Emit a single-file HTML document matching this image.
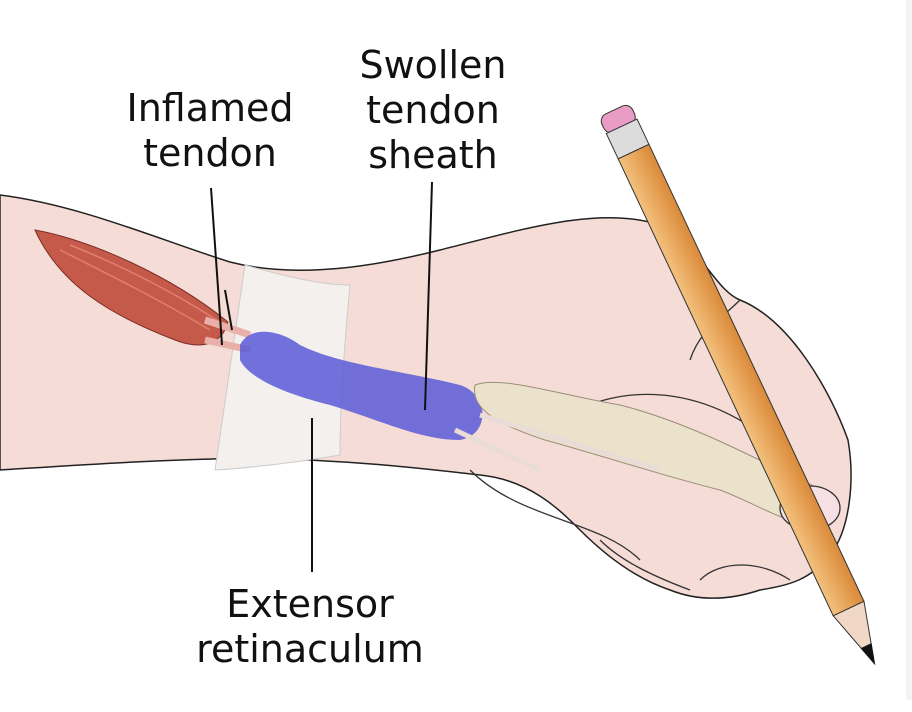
<!DOCTYPE html>
<html><head><style>
body{margin:0;background:#fff;width:912px;height:712px;overflow:hidden;position:relative;font-family:"DejaVu Sans","Liberation Sans",sans-serif}
.strip{position:absolute;left:906px;top:0;width:6px;height:700px;background:#f3f3f3}
.lbl{position:absolute;font-size:38px;color:#111;text-align:center;line-height:45px}
</style></head><body>
<div class="strip"></div>
<svg width="912" height="712" style="position:absolute;left:0;top:0">
<defs>
<linearGradient id="pen" x1="0" y1="0" x2="1" y2="0">
<stop offset="0" stop-color="#f2c17f"/><stop offset="0.5" stop-color="#e8a55a"/><stop offset="1" stop-color="#d98a3a"/></linearGradient>
</defs>
<path d="M0,195 C80,205 160,240 230,262 C300,280 380,265 440,250 C520,230 600,205 660,225 C700,245 715,290 740,300 C790,320 830,390 848,440 C855,480 850,530 830,555 C810,580 790,585 760,590 C730,600 700,602 670,590 C640,580 610,560 580,530 C560,510 530,480 480,475 C420,468 350,460 250,458 C150,460 80,465 0,470 Z" fill="#f5dcd6" stroke="#222" stroke-width="1.5"/>
<path d="M470,470 C520,520 600,520 640,560 M600,540 C620,560 650,575 690,590 M690,360 C700,330 720,320 740,300 M700,580 C720,560 760,560 790,580" fill="none" stroke="#333" stroke-width="1.3"/>
<path d="M560,420 C620,380 720,380 800,470" fill="none" stroke="#333" stroke-width="1.3"/>
<path d="M245,265 C280,275 320,285 350,285 C345,340 340,400 340,455 C300,462 250,468 215,470 C225,400 235,330 245,265 Z" fill="#f3f0ee" stroke="#ccc" stroke-width="1"/>
<path d="M35,230 C90,240 170,275 228,322 C222,345 200,350 175,340 C110,315 60,285 35,230 Z" fill="#c65a4a" stroke="#7a2e25" stroke-width="1"/>
<path d="M60,250 C110,275 160,300 210,330 M70,245 C120,265 170,290 220,322" stroke="#e08070" stroke-width="1.5" fill="none"/>
<path d="M205,320 L250,335 M205,340 L250,350" stroke="#e8b0a8" stroke-width="7"/>
<path d="M240,345 C250,325 280,330 300,345 C340,365 400,370 460,385 C490,395 490,435 460,440 C420,440 380,420 330,405 C290,395 250,380 240,360 Z" fill="#5a5ad8" opacity="0.85"/>
<path d="M475,385 C500,375 560,395 620,405 C680,420 740,450 800,480 C830,490 840,515 825,525 C795,530 760,505 720,490 C660,475 600,455 545,440 C500,425 470,410 475,385 Z" fill="#ebe2cc" stroke="#9a8f7a" stroke-width="1"/>
<path d="M455,430 L540,470 M480,415 L660,470" stroke="#e9dcd6" stroke-width="5"/>
<ellipse cx="810" cy="508" rx="30" ry="22" fill="#f7e0e4" stroke="#333" stroke-width="1.3"/>
<g transform="translate(614,110) rotate(-25.2)">
<rect x="-17" y="0" width="34" height="20" rx="8" fill="#e99cc4" stroke="#333"/>
<rect x="-17" y="18" width="34" height="28" fill="#dcdcdc" stroke="#333"/>
<rect x="-17" y="46" width="34" height="505" fill="url(#pen)" stroke="#333"/>
<polygon points="-17,551 17,551 0,612" fill="#f1d7c6" stroke="#333"/>
<polygon points="-6,592 6,592 0,613" fill="#111"/>
</g>
<g stroke="#111" stroke-width="2" fill="none">
<line x1="211" y1="188" x2="222" y2="345"/>
<line x1="225" y1="290" x2="232" y2="330"/>
<line x1="432" y1="182" x2="425" y2="410"/>
<line x1="312" y1="418" x2="312" y2="572"/>
</g>
</svg>
<div class="lbl" style="left:80px;top:86px;width:260px">Inflamed<br>tendon</div>
<div class="lbl" style="left:303px;top:43px;width:260px">Swollen<br>tendon<br>sheath</div>
<div class="lbl" style="left:160px;top:582px;width:300px">Extensor<br>retinaculum</div>
</body></html>
